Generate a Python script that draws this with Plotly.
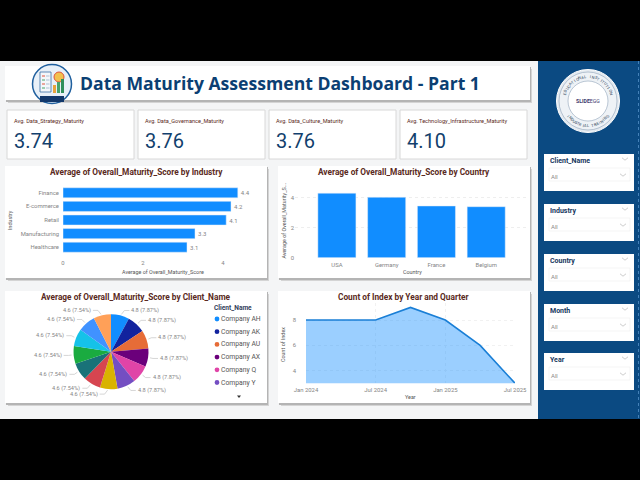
import math
import plotly.graph_objects as go

W, H = 640, 480

# chart values
title_text = "Data Maturity Assessment Dashboard - Part 1"
kpi_names = ["Avg. Data_Strategy_Maturity", "Avg. Data_Governance_Maturity",
             "Avg. Data_Culture_Maturity", "Avg. Technology_Infrastructure_Maturity"]
kpi_values = ["3.74", "3.76", "3.76", "4.10"]

industries = ["Finance", "E-commerce", "Retail", "Manufacturing", "Healthcare"]
industry_scores = [4.37, 4.2, 4.08, 3.3, 3.1]
industry_labels = ["4.4", "4.2", "4.1", "3.3", "3.1"]

countries = ["USA", "Germany", "France", "Belgium"]
country_scores = [4.3, 4.03, 3.45, 3.4]

clients = ["Company AH", "Company AK", "Company AU", "Company AX", "Company Q", "Company Y",
           "Company A", "Company B", "Company C", "Company D", "Company E", "Company F", "Company G"]
client_scores = [4.8] * 6 + [4.6] * 7
client_colors = ["#118DFF", "#12239E", "#E66C37", "#6B007B", "#E044A7", "#744EC2", "#D9B300",
                 "#D64550", "#197278", "#1AAB40", "#15C2E8", "#4092FF", "#FFA058"]

quarters = ["Jan 2024", "Apr 2024", "Jul 2024", "Oct 2024", "Jan 2025", "Apr 2025", "Jul 2025"]
index_counts = [8, 8, 8, 9, 8, 6, 3]
quarter_ticks = ["Jan 2024", "Jul 2024", "Jan 2025", "Jul 2025"]

slicers = ["Client_Name", "Industry", "Country", "Month", "Year"]
slicer_tops = [154, 204, 254, 304, 353]

NAVY = "#0B4A82"
TITLE_RED = "#5A2A22"
GREY = "#858585"
BAR = "#118DFF"
FONT = "Roboto"


def px(x):
    return x / W


def py(y):
    return 1 - y / H


def dom_x(a, b):
    return [px(a), px(b)]


def dom_y(top, bottom):
    return [py(bottom), py(top)]


fig = go.Figure()
shapes = []
notes = []


def rect(x0, y0, x1, y1, fill, line=None, lw=1, layer="below"):
    shapes.append(dict(type="rect", xref="paper", yref="paper", x0=px(x0), x1=px(x1), y0=py(y0), y1=py(y1),
                       fillcolor=fill, line=dict(color=line or fill, width=lw if line else 0), layer=layer))


def card(x0, y0, x1, y1):
    # soft grey shadow under the white panel
    rect(x0 + 3, y0 + 3, x1 + 2, y1 + 3, "#d4d4d4")
    rect(x0 + 1, y0 + 1, x1 + 1, y1 + 2, "#b4b4b4")
    rect(x0, y0, x1, y1, "white")


def circle(cx, cy, r, fill, line=None, lw=1):
    shapes.append(dict(type="circle", xref="paper", yref="paper", x0=px(cx - r), x1=px(cx + r),
                       y0=py(cy + r), y1=py(cy - r), fillcolor=fill,
                       line=dict(color=line or fill, width=lw if line else 0), layer="above"))


def seg(x0, y0, x1, y1, color, lw=1, dash="solid"):
    shapes.append(dict(type="line", xref="paper", yref="paper", x0=px(x0), x1=px(x1), y0=py(y0), y1=py(y1),
                       line=dict(color=color, width=lw, dash=dash), layer="above"))


def text(x, y, s, size, color, anchor="left", family=FONT, angle=0):
    notes.append(dict(xref="paper", yref="paper", x=px(x), y=py(y), text=s, showarrow=False, xanchor=anchor,
                      yanchor="middle", textangle=angle, borderpad=0, borderwidth=0,
                      font=dict(size=size, color=color, family=family)))


# page background, letterbox bars and side panel
rect(0, 61, 538, 419, "#f4f5f6")
rect(0, 0, 640, 61, "black")
rect(0, 419, 640, 480, "black")
rect(538, 61, 640, 419, NAVY)
seg(638.5, 61, 638.5, 419, "#5d9ad0", 0.7, "dot")

# header
card(5, 66, 530, 100)
circle(52, 84, 19.5, "#e8f0f8", "#1F5F9E", 1.5)
rect(40, 72, 51, 92, "#f4f7fa", "#3a6ea5", 0.8, "above")
for i, col in enumerate(["#e0533d", "#49a36b", "#e0533d", "#49a36b"]):
    seg(42, 76 + i * 4, 45, 76 + i * 4, col, 1)
    seg(46, 76 + i * 4, 49.5, 76 + i * 4, "#9db4cc", 0.8)
circle(59, 77, 5, "#f2c14e", "#e0533d", 1)
rect(53, 85, 56, 93, "#e8a33d", None, 1, "above")
rect(57, 82, 60, 93, "#49a36b", None, 1, "above")
rect(61, 79, 64, 93, "#2f8f5b", None, 1, "above")
rect(40, 96, 64, 102, "#12386b", None, 1, "above")
text(80, 83, f"<b>{title_text}</b>", 17.6, "#0B3F73", family="Open Sans")

# kpi cards
kpi_lefts = [7, 138, 269, 400]
for left, name, val in zip(kpi_lefts, kpi_names, kpi_values):
    rect(left, 110, left + 127, 159, "white", "#d8d8d8")
    text(left + 7, 121, name, 5.6, TITLE_RED)
    text(left + 7, 141, val, 20, "#123F6D")

# chart panels
card(5, 166, 267, 278)
card(278, 166, 530, 278)
card(5, 291, 267, 403)
card(278, 291, 530, 403)
text(136, 172, "<b>Average of Overall_Maturity_Score by Industry</b>", 8.3, TITLE_RED, "center")
text(404, 172, "<b>Average of Overall_Maturity_Score by Country</b>", 8.3, TITLE_RED, "center")
text(136, 297, "<b>Average of Overall_Maturity_Score by Client_Name</b>", 8.3, TITLE_RED, "center")
text(403, 297, "<b>Count of Index by Year and Quarter</b>", 8.3, TITLE_RED, "center")

# axis titles sit at fixed spots in the panels
text(163, 272, "Average of Overall_Maturity_Score", 5.4, "#555555", "center")
text(10, 220, "Industry", 5.4, "#555555", "center", angle=-90)
text(412, 272, "Country", 5.4, "#555555", "center")
text(283, 220.5, "Average of Overall_Maturity_S...", 5.4, "#555555", "center", angle=-90)
text(410, 397, "Year", 5.4, "#555555", "center")
text(283, 345, "Count of Index", 5.4, "#555555", "center", angle=-90)

# bar chart by industry
fig.add_trace(go.Bar(y=industries, x=industry_scores, orientation="h", marker_color=BAR, width=0.74,
                     text=industry_labels, textposition="outside", cliponaxis=False,
                     textfont=dict(size=6, color=GREY, family=FONT), showlegend=False,
                     xaxis="x", yaxis="y"))
# columns by country
fig.add_trace(go.Bar(x=countries, y=country_scores, marker_color=BAR, width=0.765, showlegend=False,
                     xaxis="x2", yaxis="y2"))
# area by quarter
fig.add_trace(go.Scatter(x=quarters, y=index_counts, mode="lines", fill="tozeroy",
                         line=dict(color="#1A7FD6", width=1.6), fillcolor="rgba(17,141,255,0.42)",
                         showlegend=False, xaxis="x3", yaxis="y3"))

# pie, slices clockwise from the top
PIE_CX, PIE_CY, PIE_R = 111, 351.7, 37.5
fig.add_trace(go.Pie(labels=clients, values=client_scores, sort=False, direction="clockwise", rotation=0,
                     marker=dict(colors=client_colors, line=dict(width=0)), textinfo="none", showlegend=False,
                     domain=dict(x=dom_x(PIE_CX - PIE_R, PIE_CX + PIE_R), y=dom_y(PIE_CY - PIE_R, PIE_CY + PIE_R))))

# outside pie labels follow the slice angles
total = sum(client_scores)
run = 0
for val in client_scores:
    mid = (run + val / 2) / total * 2 * math.pi
    run += val
    sx, cx = math.sin(mid), math.cos(mid)
    rim_x, rim_y = PIE_CX + (PIE_R + 1) * sx, PIE_CY - (PIE_R + 1) * cx
    lab_y = PIE_CY - (PIE_R + 5) * cx
    side = 1 if sx > 0 else -1
    end_x = rim_x + side * 9
    seg(rim_x + side * 1, rim_y, rim_x + side * 4, lab_y, "#c4c4c4", 0.7)
    seg(rim_x + side * 4, lab_y, end_x, lab_y, "#c4c4c4", 0.7)
    text(end_x + side * 2, lab_y, f"{val} ({val / total:.2%})", 5.6, GREY, "left" if side > 0 else "right")

# legend of the pie (only the first six names fit)
text(214, 308, "<b>Client_Name</b>", 6.6, "#33415c")
for i in range(6):
    y = 319 + i * 12.7
    circle(217, y, 2.4, client_colors[i])
    text(220.5, y, clients[i], 6.8, "#555555")
shapes.append(dict(type="path", xref="paper", yref="paper", layer="above", fillcolor="#333333", line=dict(width=0),
                   path=f"M {px(237)} {py(395.5)} L {px(241)} {py(395.5)} L {px(239)} {py(398)} Z"))

# side panel seal
SEAL_X, SEAL_Y = 588, 101
circle(SEAL_X, SEAL_Y, 31.5, "#e4eaf0", "white", 1)
circle(SEAL_X, SEAL_Y, 29, "#eef2f6", "#8fa3b8", 0.6)
circle(SEAL_X, SEAL_Y, 20, "white", "#8fa3b8", 0.6)
text(SEAL_X, SEAL_Y, "<b>SLIDE</b>EGG", 5.2, "#3d3a6e", "center")
ring_words = [("EDUCATIONAL INSTITUTION", -72, 72), ("INDUSTRIAL TRAINING", 232, 128)]
for word, start, stop in ring_words:
    for i, ch in enumerate(word):
        ang = start + (stop - start) * i / (len(word) - 1)
        a = math.radians(ang)
        flip = 180 if stop < start else 0
        text(SEAL_X + 24.5 * math.sin(a), SEAL_Y - 24.5 * math.cos(a), ch, 4, "#2b3f58", "center", angle=ang + flip)

# slicers
for name, top in zip(slicers, slicer_tops):
    rect(544, top, 634, top + 37, "white")
    text(550, top + 7, f"<b>{name}</b>", 7, "#17375E")
    rect(549, top + 14, 630, top + 27, "white", "#eeeeee", 0.6)
    text(551, top + 22, "All", 6, "#8a8a8a")
    for cx, cy in [(625, top + 5), (623, top + 21)]:
        seg(cx - 3, cy - 1.2, cx, cy + 1.2, "#aaaaaa", 0.6)
        seg(cx, cy + 1.2, cx + 3, cy - 1.2, "#aaaaaa", 0.6)

tick = dict(size=5.9, color=GREY, family=FONT)

fig.update_layout(
    width=W, height=H, margin=dict(l=0, r=0, t=0, b=0, pad=0),
    paper_bgcolor="white", plot_bgcolor="rgba(0,0,0,0)", autosize=False,
    shapes=shapes, annotations=notes, font=dict(family=FONT),
    xaxis=dict(domain=dom_x(63, 250), range=[0, 4.675], tickvals=[0, 2, 4], tickfont=tick, showgrid=False,
               zeroline=False, ticklen=0, ticklabelstandoff=4, automargin=False, anchor="y"),
    yaxis=dict(domain=dom_y(186, 254), autorange="reversed", tickfont=tick, showgrid=False, ticklen=0,
               ticklabelstandoff=3, automargin=False, anchor="x"),
    xaxis2=dict(domain=dom_x(295, 526), range=[-0.842, 3.8], tickfont=tick, showgrid=False, zeroline=False, ticklen=0,
                ticklabelstandoff=2, automargin=False, anchor="y2"),
    yaxis2=dict(domain=dom_y(188.7, 257.7), range=[0, 4.6], tickvals=[0, 2, 4], tickfont=tick, zeroline=False,
                showgrid=True, gridcolor="#eeeeee", griddash="dot", gridwidth=0.6, ticklen=0,
                automargin=False, anchor="x2"),
    xaxis3=dict(domain=dom_x(306, 515), range=[0, 6], type="category", tickvals=quarter_ticks, ticktext=quarter_ticks,
                tickfont=tick, showgrid=True, gridcolor="#f1f1f1", griddash="dot", gridwidth=0.6, zeroline=False,
                ticklen=0, ticklabelstandoff=2, automargin=False, anchor="y3"),
    yaxis3=dict(domain=dom_y(303, 383.3), range=[3, 9.35], tickvals=[4, 6, 8], tickfont=tick, zeroline=False,
                showgrid=True, gridcolor="#f1f1f1", griddash="dot", gridwidth=0.6, ticklen=0,
                ticklabelstandoff=9, automargin=False, anchor="x3"),
)

fig.write_html("out.html", post_script="document.body.style.margin='0';", config=dict(displayModeBar=False))
